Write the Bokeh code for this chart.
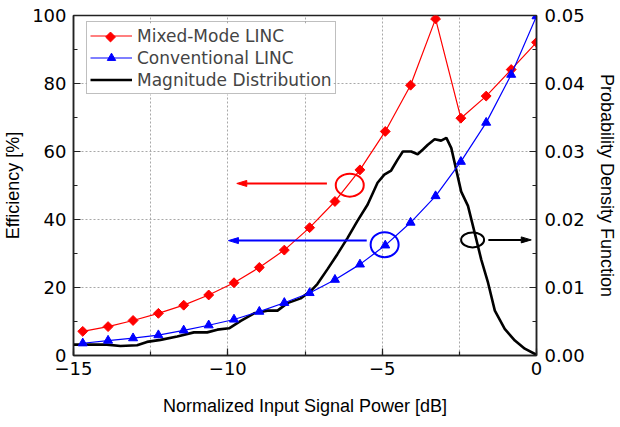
import math
from bokeh.plotting import figure
from bokeh.models import (Range1d, LinearAxis, SingleIntervalTicker, FixedTicker,
                          NumeralTickFormatter, Legend, LegendItem)
from bokeh.embed import file_html
from bokeh.resources import INLINE

# ---------------- data ----------------
power_db = [-14.70, -13.88, -13.07, -12.25, -11.43, -10.62, -9.80, -8.98, -8.17, -7.35,
            -6.53, -5.72, -4.90, -4.08, -3.27, -2.45, -1.63, -0.82, 0.0]
mixed_mode_eff = [7.1, 8.5, 10.3, 12.4, 14.8, 17.8, 21.4, 25.9, 31.0, 37.6,
                  45.3, 54.6, 65.9, 79.5, 99.0, 69.8, 76.3, 84.1, 92.1]
conventional_eff = [3.6, 4.4, 5.1, 6.0, 7.4, 8.9, 10.6, 12.9, 15.5, 18.4,
                    22.3, 26.8, 32.4, 39.1, 46.9, 57.0, 68.5, 82.6, 99.8]

pdf_power_db = [-15.0, -13.92, -13.48, -12.94, -12.62, -12.18, -11.64, -11.10, -10.67, -10.34,
                -9.96, -9.58, -9.15, -8.72, -8.39, -8.07, -7.64, -7.31, -7.10, -6.77,
                -6.45, -6.12, -5.80, -5.47, -5.15, -4.93, -4.71, -4.50, -4.33, -4.06,
                -3.85, -3.68, -3.52, -3.30, -3.09, -2.92, -2.76, -2.60, -2.44, -2.22,
                -2.00, -1.79, -1.57, -1.35, -1.03, -0.70, -0.38, 0.0]
pdf_values = [0.0016, 0.0016, 0.0014, 0.0015, 0.0020, 0.0023, 0.0028, 0.0034, 0.0034, 0.0038,
              0.0040, 0.0051, 0.0062, 0.0066, 0.0066, 0.0077, 0.0084, 0.0095, 0.0105, 0.0127,
              0.0149, 0.0173, 0.0198, 0.0222, 0.0254, 0.0266, 0.0272, 0.0288, 0.0300, 0.0300,
              0.0296, 0.0303, 0.0310, 0.0318, 0.0316, 0.0320, 0.0305, 0.0273, 0.0241, 0.0220,
              0.0180, 0.0141, 0.0107, 0.0066, 0.0039, 0.0022, 0.0010, 0.0001]

pdf_ticks = [0.0, 0.01, 0.02, 0.03, 0.04, 0.05]
pdf_minor_ticks = [0.005, 0.015, 0.025, 0.035, 0.045]

series_names = ["Mixed-Mode LINC", "Conventional LINC", "Magnitude Distribution"]

# ---------------- layout ----------------
X0, X1 = -15, 0
Y0, Y1 = 0, 100
W, H = 620, 427
BL, BT, BR, BB = 73, 15, 84, 72
FRAME_W = W - BL - BR
FRAME_H = H - BT - BB

TICK_FONT = "DejaVu Sans"
LABEL_FONT = "Liberation Sans"

p = figure(width=W, height=H, output_backend="svg", toolbar_location=None,
           x_range=Range1d(X0, X1), y_range=Range1d(Y0, Y1),
           min_border_left=BL, min_border_top=BT, min_border_right=BR, min_border_bottom=BB)
p.extra_y_ranges = {"pdf": Range1d(0, 0.05)}

p.outline_line_color = "#222222"
p.outline_line_width = 1.5
p.background_fill_color = "white"

# grids
p.xgrid.ticker = SingleIntervalTicker(interval=2.5, num_minor_ticks=0)
p.ygrid.ticker = SingleIntervalTicker(interval=20, num_minor_ticks=0)
for g in (p.xgrid, p.ygrid):
    g.grid_line_color = "#a8a8a8"
    g.grid_line_dash = "2 2"
    g.grid_line_width = 1

# axes
p.xaxis.ticker = SingleIntervalTicker(interval=5, num_minor_ticks=2)
p.yaxis.ticker = SingleIntervalTicker(interval=20, num_minor_ticks=2)
p.xaxis.axis_label = "Normalized Input Signal Power [dB]"
p.yaxis.axis_label = "Efficiency [%]"

ax_r = LinearAxis(y_range_name="pdf", ticker=FixedTicker(ticks=pdf_ticks, minor_ticks=pdf_minor_ticks),
                  formatter=NumeralTickFormatter(format="0.00"),
                  axis_label="Probability Density Function")
ax_r.axis_label_orientation = "vertical"
p.add_layout(ax_r, "right")

for ax in (p.xaxis[0], p.yaxis[0], ax_r):
    ax.axis_line_color = "#222222"
    ax.axis_line_width = 1.5
    ax.major_tick_in = 7
    ax.major_tick_out = 0
    ax.minor_tick_in = 4
    ax.minor_tick_out = 0
    ax.major_tick_line_color = "#222222"
    ax.minor_tick_line_color = "#222222"
    ax.major_tick_line_width = 1.2
    ax.minor_tick_line_width = 1.2
    ax.major_label_text_font = TICK_FONT
    ax.major_label_text_font_size = "18px"
    ax.major_label_text_color = "black"
    ax.axis_label_text_font = LABEL_FONT
    ax.axis_label_text_font_size = "18px"
    ax.axis_label_text_font_style = "normal"
    ax.axis_label_text_color = "black"

p.xaxis.major_label_standoff = 6
p.xaxis.axis_label_standoff = 18
p.yaxis.major_label_standoff = 7
p.yaxis.axis_label_standoff = 6
ax_r.major_label_standoff = 8
ax_r.axis_label_standoff = 9

# ---------------- data marks ----------------
pdf_line = p.line(pdf_power_db, pdf_values, y_range_name="pdf", line_color="black", line_width=2.6)

mm_line = p.line(power_db, mixed_mode_eff, line_color="#ff0000", line_width=1.2)
mm_pts = p.scatter(power_db, mixed_mode_eff, marker="square", size=7, angle=math.pi / 4,
                   fill_color="#ff0000", line_color="#ff0000")

cv_line = p.line(power_db, conventional_eff, line_color="#0000ff", line_width=1.2)
cv_pts = p.scatter(power_db, conventional_eff, marker="triangle", size=9,
                   fill_color="#0000ff", line_color="#0000ff")

# ---------------- annotations (ellipses + arrows) ----------------
def dx(px):
    return px * (X1 - X0) / FRAME_W

def dy(px):
    return px * (Y1 - Y0) / FRAME_H

def arrow(x_tail, x_tip, y, color):
    direction = 1 if x_tip > x_tail else -1
    base = x_tip - direction * dx(10)
    p.line([x_tail, base], [y, y], line_color=color, line_width=2)
    p.patch([x_tip, base, base], [y, y + dy(3), y - dy(3)], fill_color=color, line_color=color, line_width=1)

def ring(x, y, w, h, color):
    p.ellipse(x=[x], y=[y], width=[w], height=[h], width_units="screen", height_units="screen",
              fill_alpha=0, line_color=color, line_width=2)

ring(-6.05, 50.1, 28, 23, "#ff0000")
arrow(-6.79, -9.71, 50.6, "#ff0000")
ring(-4.92, 32.6, 28, 25, "#0000ff")
arrow(-5.50, -9.98, 33.8, "#0000ff")
ring(-2.07, 34.0, 23, 15, "black")
arrow(-1.56, -0.17, 34.0, "black")

# ---------------- legend ----------------
LEG_X, LEG_TOP, LEG_PAD, GLYPH_W, ROW_H, LEG_H, LEG_W = 13, 8, 3, 42, 21, 71, 247

# white panel under the (transparent) legend, then the rotated-square swatch on top of it
p.quad(left=[X0 + dx(LEG_X)], right=[X0 + dx(LEG_X + LEG_W)],
       top=[Y1 - dy(LEG_TOP)], bottom=[Y1 - dy(LEG_TOP + LEG_H)],
       fill_color="white", line_color=None)
sw_x = X0 + dx(LEG_X + LEG_PAD + GLYPH_W / 2)
sw_y = Y1 - dy(LEG_TOP + LEG_PAD + ROW_H / 2)
p.scatter([sw_x], [sw_y], marker="square", size=7, angle=math.pi / 4,
          fill_color="#ff0000", line_color="#ff0000")

legend = Legend(items=[
    LegendItem(label=series_names[0], renderers=[mm_line]),
    LegendItem(label=series_names[1], renderers=[cv_line, cv_pts]),
    LegendItem(label=series_names[2], renderers=[pdf_line]),
], location=(LEG_X, FRAME_H - LEG_TOP - LEG_H))
legend.label_text_font = TICK_FONT
legend.label_text_font_size = "17px"
legend.glyph_width = GLYPH_W
legend.glyph_height = ROW_H
legend.label_height = ROW_H
legend.spacing = 1
legend.padding = LEG_PAD
legend.margin = 0
legend.label_standoff = 5
legend.border_line_color = "#808080"
legend.border_line_width = 1
legend.background_fill_alpha = 0
p.add_layout(legend, "center")

open("out.html", "w").write(file_html(p, INLINE))
